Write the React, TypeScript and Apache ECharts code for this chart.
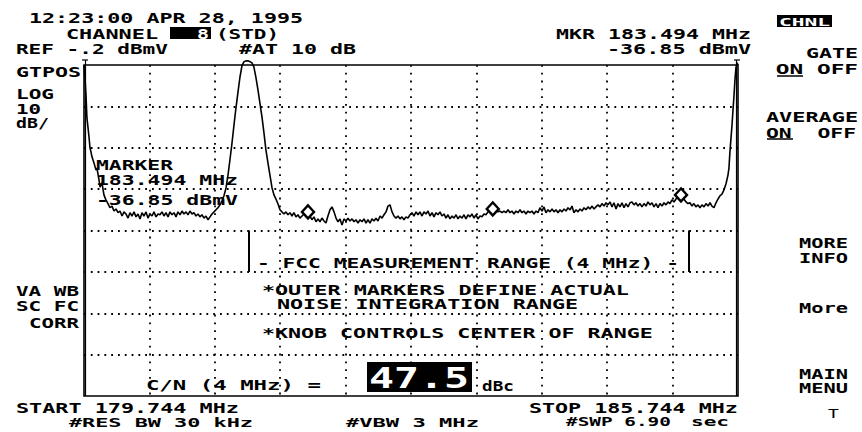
import React, { useEffect, useRef } from "react";
import * as echarts from "echarts";

// ---- instrument settings ----
const START_MHZ = 179.744;
const STOP_MHZ = 185.744;
const REF_DBMV = -0.2;
const DB_PER_DIV = 10;
const V_DIVS = 8;
const H_DIVS = 10;

// ---- trace (frequency MHz, level dBmV) ----
const traceFreq = [
  179.744, 179.753, 179.762, 179.771, 179.781, 179.790, 179.799, 179.808, 179.817, 179.836,
  179.854, 179.863, 179.882, 179.891, 179.909, 179.927, 179.945, 179.964, 179.982, 180.001,
  180.019, 180.038, 180.056, 180.074, 180.093, 180.111, 180.129, 180.148, 180.166, 180.184,
  180.203, 180.221, 180.239, 180.258, 180.276, 180.294, 180.313, 180.331, 180.349, 180.368,
  180.386, 180.405, 180.423, 180.441, 180.460, 180.478, 180.496, 180.515, 180.533, 180.551,
  180.570, 180.588, 180.606, 180.625, 180.643, 180.661, 180.680, 180.698, 180.716, 180.735,
  180.753, 180.771, 180.790, 180.808, 180.826, 180.845, 180.863, 180.882, 180.900, 180.918,
  180.937, 180.955, 180.973, 180.992, 181.010, 181.028, 181.047, 181.065, 181.083, 181.102,
  181.120, 181.138, 181.157, 181.175, 181.193, 181.212, 181.230, 181.248, 181.267, 181.285,
  181.303, 181.322, 181.340, 181.358, 181.377, 181.395, 181.413, 181.432, 181.450, 181.469,
  181.487, 181.505, 181.524, 181.542, 181.560, 181.579, 181.597, 181.615, 181.634, 181.652,
  181.670, 181.689, 181.707, 181.725, 181.744, 181.762, 181.780, 181.799, 181.817, 181.835,
  181.854, 181.872, 181.891, 181.909, 181.927, 181.946, 181.964, 181.982, 182.001, 182.019,
  182.038, 182.056, 182.074, 182.093, 182.111, 182.129, 182.148, 182.166, 182.184, 182.203,
  182.221, 182.239, 182.258, 182.276, 182.294, 182.313, 182.331, 182.349, 182.368, 182.386,
  182.405, 182.423, 182.441, 182.460, 182.478, 182.496, 182.515, 182.533, 182.551, 182.570,
  182.588, 182.606, 182.625, 182.643, 182.661, 182.680, 182.698, 182.716, 182.735, 182.753,
  182.771, 182.790, 182.808, 182.826, 182.845, 182.863, 182.882, 182.900, 182.918, 182.937,
  182.955, 182.973, 182.992, 183.010, 183.028, 183.047, 183.065, 183.083, 183.102, 183.120,
  183.138, 183.157, 183.175, 183.193, 183.212, 183.230, 183.248, 183.267, 183.285, 183.303,
  183.322, 183.340, 183.358, 183.377, 183.395, 183.413, 183.432, 183.450, 183.469, 183.494,
  183.524, 183.542, 183.560, 183.579, 183.597, 183.615, 183.634, 183.652, 183.670, 183.689,
  183.707, 183.725, 183.744, 183.762, 183.780, 183.799, 183.817, 183.835, 183.854, 183.872,
  183.891, 183.909, 183.927, 183.946, 183.964, 183.982, 184.001, 184.019, 184.038, 184.056,
  184.074, 184.093, 184.111, 184.129, 184.148, 184.166, 184.184, 184.203, 184.221, 184.239,
  184.258, 184.276, 184.294, 184.313, 184.331, 184.349, 184.368, 184.386, 184.405, 184.423,
  184.441, 184.460, 184.478, 184.496, 184.515, 184.533, 184.551, 184.570, 184.588, 184.606,
  184.625, 184.643, 184.661, 184.680, 184.698, 184.716, 184.735, 184.753, 184.771, 184.790,
  184.808, 184.826, 184.845, 184.863, 184.882, 184.900, 184.918, 184.937, 184.955, 184.973,
  184.992, 185.010, 185.028, 185.047, 185.065, 185.083, 185.102, 185.120, 185.138, 185.157,
  185.175, 185.193, 185.221, 185.248, 185.267, 185.285, 185.303, 185.322, 185.340, 185.358,
  185.377, 185.395, 185.413, 185.432, 185.450, 185.469, 185.487, 185.505, 185.524, 185.542,
  185.560, 185.579, 185.597, 185.615, 185.634, 185.652, 185.661, 185.670, 185.680, 185.689,
  185.698, 185.707, 185.716, 185.725, 185.735, 185.744,
];
const traceLevel = [
  -0.2, -3.3, -7.4, -13.0, -15.4, -17.6, -20.2, -21.2, -22.4, -23.9,
  -25.6, -25.1, -28.0, -29.7, -28.7, -31.6, -32.8, -33.7, -34.7, -34.3,
  -35.5, -35.0, -35.9, -35.5, -36.7, -35.7, -36.2, -37.2, -35.9, -36.7,
  -35.7, -36.9, -36.2, -37.4, -35.9, -36.7, -35.7, -37.2, -36.2, -36.7,
  -35.7, -36.9, -36.2, -36.4, -35.7, -36.7, -35.9, -36.9, -35.7, -36.4,
  -35.9, -36.9, -35.7, -36.4, -35.5, -36.2, -35.7, -36.4, -35.5, -36.2,
  -35.9, -36.7, -36.2, -36.9, -36.4, -37.2, -36.7, -37.6, -36.9, -36.2,
  -35.7, -35.2, -34.7, -34.0, -33.1, -31.8, -29.9, -26.8, -23.1, -19.0,
  -14.7, -10.6, -6.7, -3.1, -0.4, 0.6, 0.8, 0.8, 0.6, 0.3,
  -0.7, -3.3, -6.2, -9.4, -12.8, -16.6, -20.7, -23.9, -26.8, -29.9,
  -31.6, -32.6, -33.8, -35.2, -35.7, -36.2, -35.7, -36.4, -35.9, -36.7,
  -35.9, -36.9, -36.4, -37.2, -36.7, -36.2, -35.7, -35.7, -36.7, -37.6,
  -36.9, -38.1, -37.4, -38.1, -37.2, -37.9, -38.4, -36.7, -35.2, -34.5,
  -35.7, -37.2, -38.1, -37.4, -38.9, -37.4, -37.9, -37.2, -37.9, -37.4,
  -38.1, -37.6, -38.4, -37.6, -38.1, -37.4, -38.4, -37.6, -38.4, -37.4,
  -37.9, -37.2, -37.9, -36.7, -37.2, -36.4, -35.7, -34.3, -34.0, -35.7,
  -36.7, -37.2, -36.7, -37.4, -36.9, -37.6, -36.9, -37.2, -36.4, -35.9,
  -36.7, -35.7, -36.4, -35.7, -36.7, -35.7, -36.2, -35.5, -36.7, -35.9,
  -36.9, -35.9, -36.4, -35.7, -36.7, -36.2, -37.2, -36.4, -37.4, -36.7,
  -37.2, -36.4, -37.4, -36.7, -37.2, -36.4, -37.4, -36.4, -36.9, -36.2,
  -37.2, -36.4, -37.4, -36.7, -36.9, -36.2, -36.4, -35.7, -35.5, -35.0,
  -35.2, -35.7, -35.5, -35.9, -35.5, -35.9, -35.2, -35.9, -35.5, -36.2,
  -35.5, -35.9, -35.2, -35.9, -35.5, -36.2, -35.5, -35.9, -35.5, -36.2,
  -35.5, -35.9, -34.7, -35.5, -34.5, -35.9, -35.2, -35.7, -35.0, -35.7,
  -35.2, -35.9, -35.2, -35.7, -35.0, -35.5, -34.7, -35.2, -34.3, -35.9,
  -35.2, -35.7, -35.0, -35.5, -34.7, -35.2, -34.5, -35.0, -34.3, -35.0,
  -34.5, -34.0, -34.5, -33.7, -34.3, -33.5, -34.0, -33.3, -34.5, -33.5,
  -35.0, -33.7, -34.5, -33.5, -34.7, -33.7, -34.5, -33.5, -33.3, -34.0,
  -33.5, -34.3, -33.7, -34.5, -33.7, -34.3, -33.3, -34.0, -33.5, -34.5,
  -33.7, -34.7, -33.7, -34.3, -33.5, -34.0, -33.3, -33.7, -32.8, -33.3,
  -32.6, -32.1, -31.6, -32.6, -33.3, -33.7, -33.5, -34.3, -33.7, -34.5,
  -34.0, -34.7, -34.0, -34.5, -33.7, -34.3, -33.5, -34.3, -34.7, -33.5,
  -32.6, -31.8, -31.4, -30.4, -28.9, -26.8, -25.1, -21.2, -17.8, -14.7,
  -11.1, -7.7, -3.8, -0.9, 0.3, -0.2,
];

// ---- the three markers (diamonds) ----
const markerFreq = [181.799, 183.494, 185.221];
const markerLevel = [-35.7, -35.0, -31.6];

// ---- FCC measurement range bracket (MHz) and its vertical extent (dBmV) ----
const fccRange = [181.26, 185.29];
const fccLevels = [-40.2, -50.2];

const FONT = '"DejaVu Sans Mono", "Liberation Mono", monospace';

function txt(
  text: string,
  x1: number,
  x2: number,
  y: number,
  opt: { size?: number; fill?: string; weight?: string } = {}
) {
  const size = opt.size ?? 14;
  const visible = (text.length * 0.602 - 0.1) * size;
  const sx = (x2 - x1) / visible;
  return {
    type: "text",
    x: x1 - 0.05 * size * sx,
    y: y + 1,
    scaleX: sx,
    z: 100,
    silent: true,
    style: {
      text,
      fill: opt.fill ?? "#000",
      font: `${opt.weight ?? "bold"} ${size}px ${FONT}`,
      textAlign: "left",
      verticalAlign: "middle",
    },
  };
}

function box(x: number, y: number, w: number, h: number) {
  return { type: "rect", z: 90, silent: true, shape: { x, y, width: w, height: h }, style: { fill: "#000" } };
}

function hline(x1: number, x2: number, y: number, w = 1.5) {
  return { type: "line", z: 90, silent: true, shape: { x1, y1: y, x2, y2: y }, style: { stroke: "#000", lineWidth: w } };
}

function vline(x: number, y1: number, y2: number, w = 1.5) {
  return { type: "line", z: 90, silent: true, shape: { x1: x, y1, x2: x, y2 }, style: { stroke: "#000", lineWidth: w } };
}

export default function App() {
  const ref = useRef<HTMLDivElement>(null);

  useEffect(() => {
    if (!ref.current) return;
    const chart = echarts.init(ref.current, undefined, { renderer: "svg" });

    const traceData = traceFreq.map((f, i) => [f, traceLevel[i]]);
    const markerData = markerFreq.map((f, i) => [f, markerLevel[i]]);

    const graphic: any[] = [
      // header
      txt("12:23:00 APR 28, 1995", 30, 302, 17),
      txt("CHANNEL", 67, 157, 33),
      box(170, 27, 41, 12),
      txt("8", 198, 208, 33, { fill: "#fff" }),
      txt("(STD)", 217, 278, 33),
      txt("REF -.2 dBmV", 17, 167, 48),
      txt("#AT 10 dB", 240, 355, 48),
      txt("MKR 183.494 MHz", 557, 750, 33),
      txt("-36.85 dBmV", 608, 750, 48),
      // left labels
      txt("GTPOS", 17, 80, 71),
      txt("LOG", 17, 53, 93),
      txt("10", 17, 40, 108),
      txt("dB/", 17, 48, 122),
      txt("VA WB", 17, 78, 290),
      txt("SC FC", 17, 78, 305),
      txt("CORR", 30, 78, 322),
      // right menu
      box(777, 15, 55, 12),
      txt("CHNL", 780, 829, 21, { size: 11, fill: "#fff" }),
      txt("GATE", 807, 857, 52),
      txt("ON OFF", 777, 857, 68),
      hline(777, 803, 76, 1.5),
      txt("AVERAGE", 767, 857, 116),
      txt("ON  OFF", 767, 855, 132),
      hline(767, 793, 139, 1.5),
      txt("MORE", 800, 847, 242),
      txt("INFO", 800, 847, 257),
      txt("More", 800, 847, 307),
      txt("MAIN", 800, 847, 373),
      txt("MENU", 800, 847, 387),
      txt("T", 829, 838, 412, { weight: "normal", size: 13 }),
      // marker readout inside the graticule
      txt("MARKER", 97, 172, 164),
      txt("183.494 MHz", 97, 237, 179),
      txt("-36.85 dBmV", 97, 237, 199),
      // annotations
      txt("- FCC MEASUREMENT RANGE (4 MHz) -", 258, 678, 262),
      txt("*OUTER MARKERS DEFINE ACTUAL", 263, 628, 289),
      txt("NOISE INTEGRATION RANGE", 278, 577, 303),
      txt("*KNOB CONTROLS CENTER OF RANGE", 263, 652, 332),
      txt("C/N (4 MHz) =", 147, 320, 384),
      box(367, 362, 105, 30),
      txt("47.5", 371, 467, 377, { size: 28, fill: "#fff" }),
      txt("dBc", 483, 513, 385),
      // footer
      txt("START 179.744 MHz", 17, 238, 407),
      txt("STOP 185.744 MHz", 530, 737, 407),
      txt("#RES BW 30 kHz", 70, 252, 421, { size: 13 }),
      txt("#VBW 3 MHz", 347, 478, 421, { size: 13 }),
      txt("#SWP 6.90", 567, 670, 421, { size: 13 }),
      txt("sec", 692, 728, 421, { size: 13 }),
      // heavier side borders of the graticule
      vline(85.5, 60, 396, 1.2),
      vline(736.5, 60, 396, 1.2),
      hline(82, 88, 60, 1.2),
      hline(734, 740, 60, 1.2),
    ];

    const gridSplit = (dash: number[]) => ({
      show: true,
      showMinLine: false,
      showMaxLine: false,
      lineStyle: { color: "#000", width: 1.8, type: dash },
    });

    chart.setOption({
      animation: false,
      backgroundColor: "#fff",
      grid: {
        left: 84,
        top: 65,
        width: 654,
        height: 331,
        show: true,
        borderColor: "#000",
        borderWidth: 1.6,
        backgroundColor: "transparent",
      },
      xAxis: [
        { type: "value", min: START_MHZ, max: STOP_MHZ, show: false },
        {
          type: "value",
          min: 0,
          max: H_DIVS,
          interval: 1,
          axisLine: { show: false },
          axisTick: { show: false },
          axisLabel: { show: false },
          splitLine: gridSplit([1.8, 6]),
        },
      ],
      yAxis: [
        { type: "value", min: REF_DBMV - V_DIVS * DB_PER_DIV, max: REF_DBMV, show: false },
        {
          type: "value",
          min: 0,
          max: V_DIVS,
          interval: 1,
          axisLine: { show: false },
          axisTick: { show: false },
          axisLabel: { show: false },
          splitLine: gridSplit([1.8, 5]),
        },
      ],
      series: [
        {
          type: "line",
          xAxisIndex: 0,
          yAxisIndex: 0,
          data: traceData,
          showSymbol: false,
          clip: false,
          silent: true,
          z: 5,
          lineStyle: { color: "#000", width: 1.6 },
          markLine: {
            silent: true,
            symbol: ["none", "none"],
            label: { show: false },
            lineStyle: { color: "#000", width: 2, type: "solid" },
            data: fccRange.map((f) => [
              { coord: [f, fccLevels[0]] },
              { coord: [f, fccLevels[1]] },
            ]),
          },
        },
        {
          type: "scatter",
          xAxisIndex: 0,
          yAxisIndex: 0,
          data: markerData,
          symbol: "diamond",
          symbolSize: [12, 13],
          silent: true,
          z: 6,
          itemStyle: { color: "#fff", borderColor: "#000", borderWidth: 2.4, opacity: 1 },
        },
      ],
      graphic,
    });

    return () => chart.dispose();
  }, []);

  return (
    <div
      ref={ref}
      style={{ position: "fixed", left: 0, top: 0, width: 862, height: 432, background: "#fff" }}
    />
  );
}
